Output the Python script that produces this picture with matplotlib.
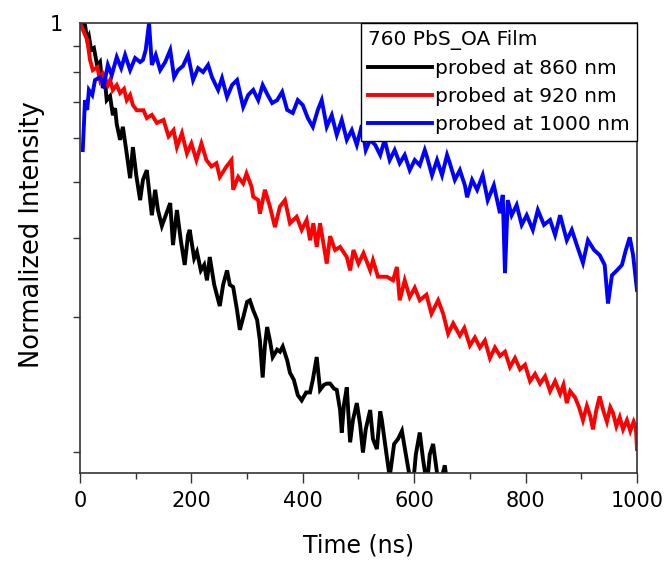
import numpy as np
import matplotlib
matplotlib.use("Agg")
import matplotlib.pyplot as plt
from matplotlib.ticker import FixedLocator, NullFormatter, FixedFormatter

# Transient decay of a 760 PbS_OA film, probed at three wavelengths
t_860 = [2, 9, 13, 16, 20, 25, 31, 36, 41, 45, 48, 54, 59, 63, 66, 72, 77, 83, 90, 95,
         101, 108, 113, 120, 126, 129, 135, 140, 147, 154, 162, 167, 174, 181, 188, 194, 197, 205, 210, 217,
         223, 228, 233, 241, 246, 251, 257, 264, 269, 275, 282, 287, 294, 300, 305, 311, 318, 323, 328, 332,
         336, 341, 346, 354, 359, 364, 372, 377, 384, 391, 398, 406, 413, 418, 425, 431, 438, 443, 449, 456,
         461, 467, 470, 474, 479, 485, 490, 497, 503, 508, 513, 521, 526, 533, 539, 542, 549, 556, 564, 571,
         578, 585, 592, 598, 603, 610, 616, 623, 628, 634, 641, 646, 655, 659]
i_860 = [1.000, 0.990, 0.917, 0.935, 0.871, 0.880, 0.803, 0.819, 0.717, 0.739, 0.674, 0.688, 0.624, 0.647, 0.596, 0.550, 0.588, 0.522, 0.452, 0.530,
         0.459, 0.404, 0.448, 0.471, 0.404, 0.374, 0.426, 0.384, 0.354, 0.374, 0.398, 0.321, 0.384, 0.329, 0.290, 0.338, 0.347, 0.300, 0.310, 0.282,
         0.290, 0.268, 0.302, 0.262, 0.248, 0.235, 0.262, 0.282, 0.262, 0.259, 0.230, 0.208, 0.224, 0.240, 0.242, 0.230, 0.219, 0.197, 0.163, 0.192,
         0.211, 0.197, 0.181, 0.188, 0.186, 0.191, 0.178, 0.167, 0.161, 0.149, 0.145, 0.151, 0.151, 0.161, 0.181, 0.153, 0.157, 0.158, 0.158, 0.154,
         0.153, 0.138, 0.123, 0.142, 0.155, 0.117, 0.131, 0.143, 0.128, 0.111, 0.125, 0.138, 0.119, 0.113, 0.137, 0.131, 0.113, 0.098, 0.116, 0.119,
         0.124, 0.110, 0.098, 0.094, 0.110, 0.123, 0.107, 0.094, 0.110, 0.116, 0.100, 0.094, 0.104, 0.095]

t_920 = [0, 13, 18, 23, 31, 36, 41, 45, 50, 54, 59, 66, 72, 79, 84, 90, 95, 102, 114, 120,
         129, 138, 150, 159, 168, 174, 183, 192, 200, 209, 218, 227, 236, 245, 251, 263, 272, 275, 284, 293,
         299, 308, 311, 320, 323, 332, 341, 350, 359, 368, 377, 389, 398, 407, 413, 419, 425, 431, 443, 449,
         458, 467, 479, 485, 491, 500, 509, 521, 526, 535, 551, 562, 569, 574, 583, 592, 601, 610, 622, 631,
         643, 652, 661, 670, 682, 690, 700, 709, 718, 727, 736, 745, 754, 763, 772, 781, 790, 799, 808, 817,
         826, 835, 844, 853, 862, 868, 874, 880, 889, 896, 903, 910, 916, 921, 927, 933, 940, 946, 952, 957,
         963, 969, 975, 982, 988, 994, 998, 1000]
i_920 = [1.000, 0.917, 0.828, 0.786, 0.798, 0.747, 0.772, 0.754, 0.728, 0.747, 0.710, 0.728, 0.699, 0.714, 0.674, 0.692, 0.657, 0.640, 0.640, 0.615,
         0.625, 0.600, 0.609, 0.560, 0.578, 0.530, 0.569, 0.513, 0.540, 0.496, 0.540, 0.496, 0.480, 0.488, 0.455, 0.480, 0.496, 0.426, 0.455, 0.440,
         0.463, 0.433, 0.411, 0.404, 0.377, 0.426, 0.391, 0.352, 0.391, 0.404, 0.359, 0.371, 0.347, 0.365, 0.329, 0.359, 0.318, 0.359, 0.292, 0.336,
         0.313, 0.318, 0.302, 0.282, 0.313, 0.292, 0.308, 0.282, 0.297, 0.273, 0.273, 0.268, 0.287, 0.242, 0.268, 0.246, 0.258, 0.242, 0.249, 0.226,
         0.242, 0.226, 0.204, 0.215, 0.202, 0.210, 0.192, 0.200, 0.190, 0.197, 0.180, 0.190, 0.182, 0.186, 0.172, 0.180, 0.170, 0.174, 0.160, 0.166,
         0.158, 0.164, 0.152, 0.160, 0.150, 0.157, 0.143, 0.152, 0.147, 0.140, 0.131, 0.141, 0.134, 0.125, 0.138, 0.148, 0.137, 0.130, 0.140, 0.136,
         0.127, 0.133, 0.125, 0.131, 0.124, 0.130, 0.126, 0.113]

t_1000 = [5, 9, 13, 16, 22, 27, 36, 43, 50, 57, 66, 74, 81, 90, 99, 108, 113, 118, 124, 129,
          136, 144, 153, 162, 169, 176, 185, 194, 203, 212, 221, 230, 237, 248, 255, 264, 273, 282, 293, 302,
          311, 320, 328, 337, 345, 354, 363, 372, 382, 391, 400, 409, 418, 427, 434, 443, 452, 461, 470, 479,
          488, 497, 506, 513, 521, 530, 539, 547, 556, 565, 574, 583, 592, 601, 610, 619, 623, 632, 641, 650,
          659, 664, 673, 682, 691, 695, 704, 713, 723, 732, 743, 754, 759, 763, 768, 775, 784, 793, 802, 813,
          822, 833, 844, 853, 862, 874, 883, 892, 903, 912, 923, 933, 942, 948, 955, 964, 973, 980, 987, 993,
          1000]
i_1000 = [0.522, 0.674, 0.641, 0.710, 0.692, 0.747, 0.758, 0.728, 0.807, 0.766, 0.840, 0.794, 0.849, 0.786, 0.836, 0.819, 0.828, 0.871, 1.000, 0.807,
          0.849, 0.786, 0.819, 0.871, 0.758, 0.786, 0.803, 0.849, 0.747, 0.794, 0.778, 0.807, 0.758, 0.710, 0.754, 0.685, 0.728, 0.747, 0.651, 0.692,
          0.710, 0.674, 0.728, 0.692, 0.664, 0.674, 0.703, 0.641, 0.631, 0.674, 0.657, 0.615, 0.588, 0.641, 0.674, 0.588, 0.624, 0.564, 0.609, 0.550,
          0.578, 0.536, 0.593, 0.522, 0.550, 0.536, 0.509, 0.550, 0.496, 0.522, 0.488, 0.509, 0.471, 0.496, 0.483, 0.522, 0.504, 0.459, 0.496, 0.459,
          0.509, 0.488, 0.448, 0.471, 0.436, 0.410, 0.448, 0.426, 0.459, 0.404, 0.436, 0.378, 0.415, 0.278, 0.404, 0.374, 0.394, 0.356, 0.374, 0.347,
          0.384, 0.356, 0.365, 0.338, 0.374, 0.329, 0.347, 0.321, 0.293, 0.329, 0.313, 0.305, 0.290, 0.238, 0.275, 0.282, 0.290, 0.313, 0.334, 0.305,
          0.255]

series = [
    (t_860, i_860, "#000000", "probed at 860 nm"),
    (t_920, i_920, "#ff0000", "probed at 920 nm"),
    (t_1000, i_1000, "#0000ff", "probed at 1000 nm"),
]

x_major = [0, 200, 400, 600, 800, 1000]
x_minor = [100, 300, 500, 700, 900]
y_minor = [k / 9 for k in range(1, 9)]

plt.rcParams["font.family"] = ["DejaVu Sans"]

fig = plt.figure(figsize=(6.71, 5.62), dpi=100)
ax = fig.add_axes([0.1192, 0.1584, 0.8301, 0.8006])

for t, y, c, lab in series:
    ax.plot(t, y, color=c, lw=2.8, label=lab, solid_joinstyle="miter")

ax.set_yscale("log")
ax.set_xlim(0, 1000)
ax.set_ylim(0.1, 1)

ax.xaxis.set_major_locator(FixedLocator(x_major))
ax.xaxis.set_minor_locator(FixedLocator(x_minor))
ax.yaxis.set_major_locator(FixedLocator([1]))
ax.yaxis.set_major_formatter(FixedFormatter(["1"]))
ax.yaxis.set_minor_locator(FixedLocator(y_minor))
ax.yaxis.set_minor_formatter(NullFormatter())

ax.tick_params(axis="both", which="both", direction="out", top=False, right=False,
               color="#333333", width=1.0, labelsize=15, labelcolor="black")
ax.tick_params(axis="x", which="major", length=7, pad=6)
ax.tick_params(axis="x", which="minor", length=4)
ax.tick_params(axis="y", which="major", length=0, pad=12)
ax.tick_params(axis="y", which="minor", length=5)

for s in ax.spines.values():
    s.set_color("#333333")
    s.set_linewidth(1.2)

ax.set_xlabel("Time (ns)", fontsize=17, labelpad=16)
ax.set_ylabel("Normalized Intensity", fontsize=18.5)
ax.yaxis.set_label_coords(-0.063, 0.531)

leg = ax.legend(loc="upper right", title="760 PbS_OA Film", fontsize=14.5,
                title_fontsize=14.5, frameon=True, fancybox=False, framealpha=1,
                edgecolor="black", borderaxespad=0, handlelength=3.2,
                handletextpad=0.15, labelspacing=0.45, borderpad=0.35,
                alignment="left")
leg.get_frame().set_linewidth(1.0)
for line in leg.get_lines():
    line.set_linewidth(2.8)

fig.savefig("out.png", dpi=100, facecolor="white")
